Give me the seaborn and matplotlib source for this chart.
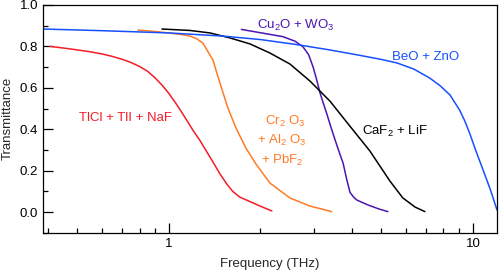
import matplotlib
matplotlib.use('Agg')
import matplotlib.pyplot as plt
import matplotlib.ticker as mticker
import pandas as pd
import seaborn as sns

# transmittance curves (frequency in THz)
red_f = [0.406, 0.45, 0.50, 0.55, 0.60, 0.65, 0.707, 0.75, 0.80, 0.85, 0.90, 0.95, 1.00,
         1.05, 1.10, 1.15, 1.20, 1.265, 1.33, 1.40, 1.47, 1.55, 1.62, 1.71, 1.85, 2.00, 2.18]
red_t = [0.800, 0.792, 0.783, 0.774, 0.764, 0.752, 0.736, 0.722, 0.703, 0.680, 0.648, 0.612, 0.572,
         0.528, 0.483, 0.438, 0.394, 0.345, 0.292, 0.238, 0.185, 0.135, 0.100, 0.072, 0.050, 0.028, 0.005]

orange_f = [0.79, 0.90, 1.00, 1.10, 1.17, 1.23, 1.293, 1.395, 1.471, 1.563, 1.661, 1.791,
            1.932, 2.148, 2.499, 2.908, 3.43]
orange_t = [0.879, 0.872, 0.865, 0.857, 0.850, 0.838, 0.816, 0.734, 0.623, 0.502, 0.406, 0.309,
            0.232, 0.140, 0.068, 0.029, 0.002]

purple_f = [1.73, 2.0, 2.37, 2.6, 2.76, 2.88, 2.98, 3.06, 3.14, 3.22, 3.30, 3.41, 3.52,
            3.63, 3.74, 3.84, 3.94, 4.05, 4.15, 4.5, 4.9, 5.25]
purple_t = [0.882, 0.866, 0.847, 0.825, 0.798, 0.760, 0.700, 0.640, 0.575, 0.525, 0.478, 0.410, 0.348,
            0.290, 0.236, 0.160, 0.095, 0.072, 0.058, 0.035, 0.015, 0.002]

black_f = [0.948, 1.172, 1.364, 1.587, 1.847, 2.148, 2.499, 2.908, 3.384, 3.937, 4.58,
           5.33, 5.88, 6.45, 6.95]
black_t = [0.884, 0.877, 0.865, 0.841, 0.812, 0.768, 0.715, 0.633, 0.536, 0.415, 0.295,
           0.150, 0.068, 0.024, 0.002]

blue_f = [0.385, 0.6, 1.0, 1.5, 2.0, 2.6, 3.38, 4.2, 5.0, 5.63, 6.4, 7.21, 7.8, 8.41,
          9.06, 9.4, 9.76, 10.2, 10.8, 11.4, 12.0]
blue_t = [0.884, 0.876, 0.865, 0.850, 0.833, 0.810, 0.783, 0.758, 0.737, 0.720, 0.690, 0.647, 0.610, 0.565,
          0.490, 0.440, 0.380, 0.300, 0.203, 0.110, 0.010]

curves = [
    ('TlCl + TlI + NaF', red_f, red_t, '#f41c28'),
    ('Cr2O3 + Al2O3 + PbF2', orange_f, orange_t, '#ff7a24'),
    ('Cu2O + WO3', purple_f, purple_t, '#4a16b0'),
    ('CaF2 + LiF', black_f, black_t, '#000000'),
    ('BeO + ZnO', blue_f, blue_t, '#1650ff'),
]

sns.set_style('ticks')
plt.rcParams['font.family'] = ['Liberation Sans', 'DejaVu Sans']
plt.rcParams['mathtext.fontset'] = 'custom'
plt.rcParams['mathtext.rm'] = 'Liberation Sans'
plt.rcParams['mathtext.it'] = 'Liberation Sans'
plt.rcParams.update({
    'xtick.direction': 'in', 'ytick.direction': 'in',
    'xtick.color': 'black', 'ytick.color': 'black',
    'xtick.major.size': 7.5, 'ytick.major.size': 7.5,
    'xtick.minor.size': 3.8, 'ytick.minor.size': 3.8,
    'xtick.major.width': 0.9, 'ytick.major.width': 0.9,
    'xtick.minor.width': 0.9, 'ytick.minor.width': 0.9,
    'xtick.minor.visible': True, 'ytick.minor.visible': True,
    'xtick.bottom': True, 'ytick.left': True,
})

fig = plt.figure(figsize=(5, 2.7), dpi=100)
ax = fig.add_axes([0.086, 0.138, 0.908, 0.8435])

for name, f, t, c in curves:
    df = pd.DataFrame({'freq': f, 'trans': t})
    sns.lineplot(data=df, x='freq', y='trans', color=c, lw=1.1, ax=ax)

ax.set_xscale('log')
ax.set_xlim(0.385, 12)
ax.set_ylim(-0.1, 1.0)

ax.yaxis.set_major_locator(mticker.MultipleLocator(0.2))
ax.yaxis.set_minor_locator(mticker.MultipleLocator(0.1))
ax.yaxis.set_major_formatter(mticker.FormatStrFormatter('%.1f'))
ax.xaxis.set_major_locator(mticker.LogLocator(base=10))
ax.xaxis.set_minor_locator(mticker.LogLocator(base=10, subs=range(2, 10)))
ax.xaxis.set_major_formatter(mticker.FuncFormatter(lambda v, p: '%g' % v))
ax.xaxis.set_minor_formatter(mticker.NullFormatter())

ax.tick_params(which='major', labelsize=9.5, pad=3.5)
for s in ax.spines.values():
    s.set_linewidth(0.9)
    s.set_color('black')

ax.set_xlabel('Frequency (THz)', fontsize=9.5, labelpad=6)
ax.set_ylabel('Transmittance', fontsize=9.5, labelpad=4)

fs = 9.5
ax.text(0.722, 0.454, 'TlCl + TlI + NaF', color='#f41c28', fontsize=fs, ha='center', va='center')
ax.text(2.41, 0.436, 'Cr$_2$ O$_3$', color='#ff7a24', fontsize=fs, ha='center', va='center')
ax.text(2.36, 0.348, '+ Al$_2$ O$_3$', color='#ff7a24', fontsize=fs, ha='center', va='center')
ax.text(2.36, 0.251, '+ PbF$_2$', color='#ff7a24', fontsize=fs, ha='center', va='center')
ax.text(2.61, 0.903, 'Cu$_2$O + WO$_3$', color='#4a16b0', fontsize=fs, ha='center', va='center')
ax.text(6.98, 0.749, 'BeO + ZnO', color='#1650ff', fontsize=fs, ha='center', va='center')
ax.text(5.54, 0.388, 'CaF$_2$ + LiF', color='#000000', fontsize=fs, ha='center', va='center')

fig.savefig('out.png', dpi=100)
